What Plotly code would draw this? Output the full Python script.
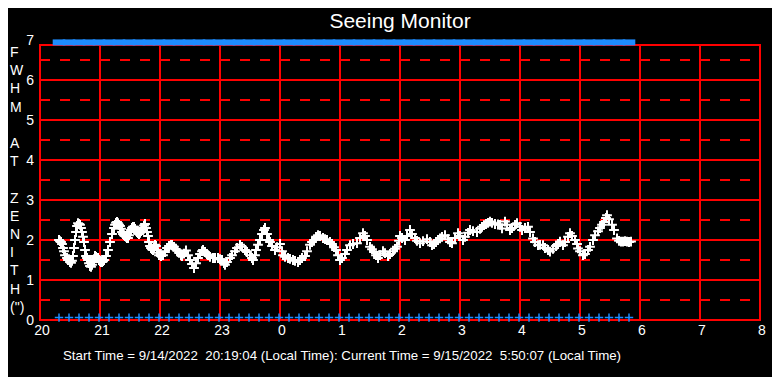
import plotly.graph_objects as go

# Minutes after 20:00 local time, and FWHM at zenith (arcsec)
minutes = [19, 20, 21, 22, 23, 24, 25, 27, 28, 30,
           31, 32, 33, 34, 35, 36, 37, 38, 39, 40,
           41, 42, 43, 44, 45, 46, 47, 48, 49, 50,
           51, 52, 53, 54, 55, 56, 57, 58, 59, 60,
           61, 62, 63, 64, 66, 68, 70, 72, 74, 75,
           76, 77, 78, 79, 80, 81, 82, 83, 84, 85,
           86, 87, 88, 89, 90, 91, 92, 93, 94, 95,
           96, 97, 98, 99, 100, 101, 102, 103, 104, 105,
           106, 107, 108, 109, 110, 111, 112, 113, 114, 115,
           116, 117, 118, 119, 121, 123, 125, 127, 129, 131,
           132, 134, 136, 137, 139, 141, 142, 144, 146, 148,
           150, 152, 154, 156, 158, 160, 162, 163, 165, 167,
           168, 170, 173, 175, 178, 180, 182, 184, 185, 187,
           190, 192, 195, 197, 200, 202, 205, 207, 210, 212,
           213, 215, 216, 218, 220, 222, 224, 225, 227, 229,
           230, 232, 235, 237, 240, 242, 243, 245, 248, 250,
           253, 255, 258, 260, 262, 265, 267, 270, 272, 274,
           276, 278, 280, 283, 285, 287, 290, 292, 294, 296,
           298, 300, 302, 305, 307, 310, 313, 317, 320, 323,
           325, 327, 330, 332, 334, 336, 338, 340, 343, 345,
           348, 350, 353, 355, 357, 359, 360, 362, 365, 367,
           370, 372, 375, 377, 380, 383, 387, 390, 392, 394,
           396, 398, 400, 402, 405, 408, 410, 412, 415, 418,
           420, 423, 425, 428, 430, 433, 437, 440, 442, 444,
           446, 448, 450, 452, 455, 458, 460, 462, 465, 467,
           470, 472, 475, 477, 480, 482, 485, 488, 490, 493,
           495, 498, 500, 503, 505, 508, 510, 513, 516, 518,
           520, 523, 525, 528, 530, 532, 535, 537, 538, 540,
           543, 545, 548, 550, 553, 555, 558, 560, 562, 564,
           566, 567, 569, 572, 574, 577, 579, 581, 583, 585,
           587, 589, 591]
fwhm = [2.00, 1.97, 1.95, 1.90, 1.80, 1.72, 1.62, 1.55, 1.50, 1.45,
        1.43, 1.48, 1.60, 1.80, 2.00, 2.20, 2.35, 2.42, 2.40, 2.38,
        2.30, 2.20, 2.08, 1.95, 1.75, 1.60, 1.55, 1.50, 1.42, 1.35,
        1.33, 1.38, 1.45, 1.52, 1.60, 1.58, 1.55, 1.55, 1.50, 1.47,
        1.45, 1.45, 1.47, 1.50, 1.60, 1.75, 1.95, 2.15, 2.30, 2.38,
        2.43, 2.45, 2.42, 2.38, 2.35, 2.28, 2.20, 2.15, 2.12, 2.10,
        2.08, 2.05, 2.05, 2.12, 2.20, 2.25, 2.30, 2.33, 2.33, 2.28,
        2.23, 2.20, 2.17, 2.15, 2.18, 2.22, 2.26, 2.30, 2.36, 2.40,
        2.30, 2.20, 2.10, 1.95, 1.85, 1.80, 1.77, 1.75, 1.80, 1.88,
        1.85, 1.75, 1.68, 1.62, 1.60, 1.62, 1.70, 1.80, 1.85, 1.88,
        1.88, 1.83, 1.77, 1.74, 1.68, 1.62, 1.60, 1.66, 1.74, 1.62,
        1.50, 1.40, 1.30, 1.42, 1.55, 1.65, 1.72, 1.75, 1.70, 1.64,
        1.62, 1.58, 1.55, 1.55, 1.55, 1.52, 1.50, 1.42, 1.38, 1.45,
        1.55, 1.62, 1.72, 1.80, 1.88, 1.83, 1.75, 1.70, 1.62, 1.55,
        1.50, 1.62, 1.75, 1.88, 2.00, 2.15, 2.25, 2.30, 2.15, 2.00,
        1.95, 1.85, 1.75, 1.82, 1.90, 1.72, 1.62, 1.58, 1.55, 1.53,
        1.50, 1.48, 1.45, 1.50, 1.55, 1.60, 1.72, 1.88, 1.95, 2.00,
        2.08, 2.12, 2.10, 2.05, 2.02, 2.00, 1.95, 1.90, 1.82, 1.75,
        1.62, 1.50, 1.55, 1.65, 1.75, 1.87, 1.90, 1.92, 2.05, 2.17,
        2.10, 2.00, 1.83, 1.77, 1.70, 1.62, 1.55, 1.62, 1.72, 1.67,
        1.60, 1.65, 1.72, 1.78, 1.83, 1.98, 2.10, 2.05, 2.00, 2.10,
        2.25, 2.15, 2.05, 1.98, 1.92, 1.97, 2.02, 1.95, 1.87, 1.90,
        1.95, 2.00, 2.04, 2.08, 2.12, 2.02, 1.95, 1.92, 2.05, 2.17,
        2.10, 2.00, 2.08, 2.18, 2.25, 2.22, 2.20, 2.28, 2.33, 2.37,
        2.40, 2.43, 2.46, 2.43, 2.40, 2.39, 2.38, 2.29, 2.46, 2.38,
        2.25, 2.30, 2.38, 2.42, 2.33, 2.25, 2.30, 2.33, 2.20, 2.04,
        1.95, 1.87, 1.88, 1.87, 1.80, 1.75, 1.71, 1.78, 1.85, 1.90,
        1.96, 1.87, 1.95, 2.08, 2.17, 2.10, 2.00, 1.90, 1.79, 1.72,
        1.62, 1.65, 1.75, 1.83, 2.00, 2.12, 2.22, 2.30, 2.38, 2.45,
        2.55, 2.62, 2.52, 2.38, 2.25, 2.04, 1.98, 1.96, 1.96, 1.97,
        1.96, 1.95, 1.96]

# Status markers (every 10 minutes)
status_minutes = [19, 29, 39, 49, 59, 69, 79, 89, 99, 109, 119, 129, 139, 149, 159, 169, 179, 189, 199, 209,
                  219, 229, 239, 249, 259, 269, 279, 289, 299, 309, 319, 329, 339, 349, 359, 369, 379, 389, 399, 409,
                  419, 429, 439, 449, 459, 469, 479, 489, 499, 509, 519, 529, 539, 549, 559, 569, 579, 589]

x_tick_vals = [0, 60, 120, 180, 240, 300, 360, 420, 480, 540, 600, 660, 720]
x_tick_labels = ["20", "21", "22", "23", "0", "1", "2", "3", "4", "5", "6", "7", "8"]
y_tick_vals = [0, 1, 2, 3, 4, 5, 6, 7]
y_solid = [1, 2, 3, 4, 5, 6]
y_dashed = [0.5, 1.5, 2.5, 3.5, 4.5, 5.5, 6.5]
x_vertical = [60, 120, 180, 240, 300, 360, 420, 480, 540, 600, 660]

FRAME_TOP = 6.875
STATUS_TOP = 6.94
STATUS_BOTTOM = 0.06
RED = "#FF0000"
BLUE = "#1E8CFF"
OFF = 8  # page offset of the plot div

fig = go.Figure()

fig.add_trace(go.Scatter(
    x=status_minutes, y=[STATUS_TOP] * len(status_minutes), mode="markers",
    marker=dict(symbol="line-ew-open", size=9, color=BLUE, line=dict(width=6, color=BLUE)),
    cliponaxis=False, hoverinfo="skip", showlegend=False))
fig.add_trace(go.Scatter(
    x=status_minutes, y=[STATUS_BOTTOM] * len(status_minutes), mode="markers",
    marker=dict(symbol="cross-thin-open", size=6, color=BLUE, line=dict(width=1.5, color=BLUE)),
    cliponaxis=False, hoverinfo="skip", showlegend=False))
fig.add_trace(go.Scatter(
    x=minutes, y=fwhm, mode="markers",
    marker=dict(symbol="cross-thin-open", size=7, color="white", line=dict(width=2, color="white")),
    showlegend=False))

shapes = []
for xv in x_vertical:
    shapes.append(dict(type="line", xref="x", yref="y", x0=xv, x1=xv, y0=0, y1=FRAME_TOP,
                       line=dict(color=RED, width=2), layer="below"))
for yv in y_solid:
    shapes.append(dict(type="line", xref="x", yref="y", x0=0, x1=720, y0=yv, y1=yv,
                       line=dict(color=RED, width=2), layer="below"))
for yv in y_dashed:
    shapes.append(dict(type="line", xref="x", yref="y", x0=0, x1=720, y0=yv, y1=yv,
                       line=dict(color=RED, width=2, dash="10px,10px"), layer="below"))
shapes.append(dict(type="rect", xref="paper", yref="paper", x0=0, x1=1, y0=0, y1=FRAME_TOP / 7,
                   line=dict(color=RED, width=2), layer="below"))

fig.update_layout(
    width=780, height=377,
    margin=dict(l=40 - OFF, r=20 + OFF, t=40 - OFF, b=57 + OFF),
    paper_bgcolor="black", plot_bgcolor="black",
    font=dict(family="Arial, Liberation Sans", color="white", size=14),
    title=dict(text="Seeing Monitor", x=0.5, xanchor="center", xref="paper",
               y=1 - (21 - OFF) / 377, yref="container", yanchor="middle",
               font=dict(size=21, color="white")),
    shapes=shapes,
    xaxis=dict(range=[0, 720], tickvals=x_tick_vals, ticktext=x_tick_labels,
               showgrid=False, zeroline=False, showline=False, ticks="",
               ticklabelshift=2,
               tickfont=dict(size=14, color="white"), fixedrange=True),
    yaxis=dict(range=[0, 7], tickvals=y_tick_vals, ticktext=[str(v) for v in y_tick_vals],
               showgrid=False, zeroline=False, showline=False, ticks="",
               ticklabelstandoff=5,
               tickfont=dict(size=14, color="white"), fixedrange=True),
    annotations=[
        dict(text="F<br>W<br>H<br>M<br> <br>A<br>T<br> <br>Z<br>E<br>N<br>I<br>T<br>H<br>(\")",
             xref="paper", yref="paper", x=-(40 - OFF) / 720, y=(320 - 179) / 280,
             xanchor="left", yanchor="middle", showarrow=False, align="left",
             font=dict(size=14, color="white")),
        dict(text="Start Time = 9/14/2022  20:19:04 (Local Time): Current Time = 9/15/2022  5:50:07 (Local Time)",
             xref="paper", yref="paper", x=(342 - 40) / 720, y=(320 - 355) / 280,
             xanchor="center", yanchor="middle", showarrow=False,
             font=dict(size=13.3, color="white")),
    ],
)

fig.write_html("out.html")
